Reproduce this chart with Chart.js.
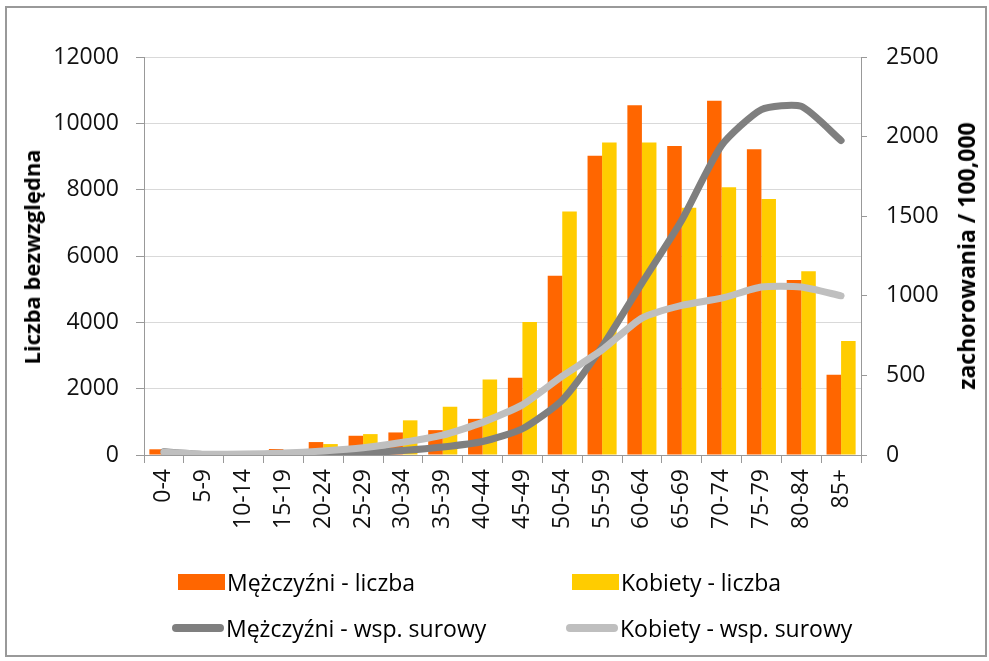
<!DOCTYPE html>
<html>
<head>
<meta charset="utf-8">
<script src="https://cdn.jsdelivr.net/npm/chart.js@4/dist/chart.umd.min.js"></script>
<style>
  html, body { margin: 0; padding: 0; background: #fff; }
  #wrap { position: relative; width: 989px; height: 661px; overflow: hidden; font-family: "Open Sans", sans-serif; }
  #frame { position: absolute; left: 5px; top: 6px; width: 978px; height: 647px; border: 2px solid #999; box-sizing: content-box; }
  canvas { position: absolute; left: 0; top: 0; }
  .ytitle { position: absolute; font-weight: bold; color: #000; white-space: nowrap; transform: translate(-50%, -50%) rotate(-90deg); }
  .leg { position: absolute; font-size: 23px; color: #000; white-space: nowrap; display: flex; align-items: center; }
  .box { display: inline-block; width: 47px; height: 16px; margin-right: 2px; }
  .ln { display: inline-block; width: 52px; height: 8px; border-radius: 4px; margin-right: 2px; }
</style>
</head>
<body>
<div id="wrap">
  <div id="frame"></div>
  <canvas id="c" width="989" height="661"></canvas>
  <div class="ytitle" style="left:31px; top:257px; font-size:22px;">Liczba bezwzględna</div>
  <div class="ytitle" style="left:966px; top:256px; font-size:23px;">zachorowania / 100,000</div>
  <div class="leg" style="left:178px; top:566px;"><span class="box" style="background:#FF6600"></span>Mężczyźni - liczba</div>
  <div class="leg" style="left:572px; top:566px;"><span class="box" style="background:#FFCC00"></span>Kobiety - liczba</div>
  <div class="leg" style="left:172px; top:612px;"><span class="ln" style="background:#7F7F7F"></span>Mężczyźni - wsp. surowy</div>
  <div class="leg" style="left:566px; top:612px;"><span class="ln" style="background:#BFBFBF"></span>Kobiety - wsp. surowy</div>
</div>
<script>
const categories = ["0-4","5-9","10-14","15-19","20-24","25-29","30-34","35-39","40-44","45-49","50-54","55-59","60-64","65-69","70-74","75-79","80-84","85+"];
const menCount = [172, 20, 20, 180, 390, 580, 680, 750, 1090, 2330, 5405, 9025, 10545, 9315, 10680, 9215, 5280, 2420];
const womenCount = [120, 15, 20, 130, 330, 630, 1045, 1455, 2280, 4010, 7345, 9425, 9425, 7455, 8070, 7720, 5540, 3440];
const menRate = [20, 3, 3, 5, 8, 14, 28, 50, 85, 165, 345, 680, 1080, 1475, 1945, 2170, 2190, 1975];
const womenRate = [18, 5, 6, 12, 25, 45, 80, 125, 205, 315, 495, 660, 860, 940, 985, 1055, 1055, 1000];
const leftTicks = [0, 2000, 4000, 6000, 8000, 10000, 12000];
const rightTicks = [0, 500, 1000, 1500, 2000, 2500];

const tickFont = { family: "Open Sans", size: 23 };

new Chart(document.getElementById('c'), {
  data: {
    labels: categories,
    datasets: [
      { type: 'bar', label: 'Mężczyźni - liczba', data: menCount, backgroundColor: '#FF6600', yAxisID: 'y', order: 3, categoryPercentage: 0.73, barPercentage: 1.0 },
      { type: 'bar', label: 'Kobiety - liczba', data: womenCount, backgroundColor: '#FFCC00', yAxisID: 'y', order: 4, categoryPercentage: 0.73, barPercentage: 1.0 },
      { type: 'line', label: 'Mężczyźni - wsp. surowy', data: menRate, borderColor: '#7F7F7F', borderWidth: 7, pointRadius: 0, tension: 0.2, yAxisID: 'y1', order: 2, borderCapStyle: 'round', borderJoinStyle: 'round' },
      { type: 'line', label: 'Kobiety - wsp. surowy', data: womenRate, borderColor: '#BFBFBF', borderWidth: 7, pointRadius: 0, tension: 0.2, yAxisID: 'y1', order: 1, borderCapStyle: 'round', borderJoinStyle: 'round' }
    ]
  },
  options: {
    responsive: false,
    animation: false,
    layout: { padding: { left: 0, right: 0, top: 57, bottom: 116 } },
    plugins: { legend: { display: false }, tooltip: { enabled: false } },
    scales: {
      x: {
        offset: true,
        grid: { offset: true, drawOnChartArea: false, tickLength: 8, tickColor: '#999', color: '#999' },
        border: { color: '#999', width: 1 },
        ticks: { font: tickFont, color: '#111', minRotation: 90, maxRotation: 90, padding: 6, autoSkip: false },
        afterFit: s => { s.height = 90; }
      },
      y: {
        position: 'left',
        min: 0, max: 12000,
        afterBuildTicks: s => { s.ticks = leftTicks.map(v => ({ value: v })); },
        grid: { color: '#D9D9D9', tickColor: '#999', tickLength: 8, lineWidth: 1 },
        border: { color: '#999', width: 1 },
        ticks: { font: tickFont, color: '#111', padding: 17, callback: v => String(v) },
        afterFit: s => { s.width = 144; }
      },
      y1: {
        position: 'right',
        min: 0, max: 2500,
        afterBuildTicks: s => { s.ticks = rightTicks.map(v => ({ value: v })); },
        grid: { drawOnChartArea: false, tickColor: '#999', tickLength: 6 },
        border: { color: '#999', width: 1 },
        ticks: { font: tickFont, color: '#111', padding: 19, callback: v => String(v) },
        afterFit: s => { s.width = 128; }
      }
    }
  }
});
</script>
</body>
</html>
